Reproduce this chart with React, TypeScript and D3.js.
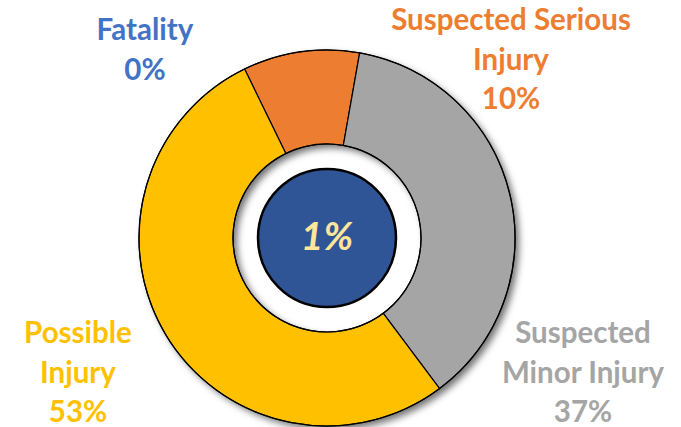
import React from "react";
import * as d3 from "d3";

const categories = ["Fatality", "Suspected Serious Injury", "Suspected Minor Injury", "Possible Injury"];
const values = [0, 10, 37, 53];
const colors = ["#4472C4", "#ED7D31", "#A5A5A5", "#FFC000"];
const labelLines = [["Fatality", "0%"], ["Suspected Serious", "Injury", "10%"], ["Suspected", "Minor Injury", "37%"], ["Possible", "Injury", "53%"]];
const labelPos = [
  { x: 145, y: 40 },
  { x: 511, y: 30 },
  { x: 583, y: 343 },
  { x: 78, y: 343 },
];
const centerLabel = "1%";

const W = 681, H = 427;
const cx = 327, cy = 238;
const outerR = 188, innerR = 94, centerR = 69;
const FONT = "Lato, 'Open Sans', sans-serif";

export default function App() {
  const data = categories.map((c, i) => ({ c, v: values[i], color: colors[i] }));
  const pie = d3.pie<any>().value((d) => d.v).sort(null)
    .startAngle((-26 * Math.PI) / 180)
    .endAngle((-26 * Math.PI) / 180 + 2 * Math.PI);
  const arcs = pie(data);
  const arc = d3.arc<any>().innerRadius(innerR).outerRadius(outerR);
  const ringPath = d3.arc<any>().innerRadius(innerR).outerRadius(outerR).startAngle(0).endAngle(2 * Math.PI)({} as any) as string;
  return (
    <div style={{ position: "absolute", left: 0, top: 0 }}>
      <svg width={W} height={H} style={{ display: "block" }}>
        <defs>
          <filter id="sh" x="-20%" y="-20%" width="140%" height="140%">
            <feDropShadow dx="4" dy="4" stdDeviation="3.5" floodColor="#000" floodOpacity="0.55" />
          </filter>
        </defs>
        <rect width={W} height={H} fill="#fff" />
        <g transform={`translate(${cx},${cy})`}>
          <path d={ringPath} fill="#fff" filter="url(#sh)" />
          {arcs.filter((a) => a.data.v > 0).map((a, i) => (
            <path key={i} d={arc(a) as string} fill={a.data.color} stroke="#000" strokeWidth={1.2} />
          ))}
          <circle r={outerR} fill="none" stroke="#000" strokeWidth={1.2} />
          <circle r={innerR} fill="none" stroke="#000" strokeWidth={1.2} />
          <circle r={centerR} fill="#2F5597" stroke="#000" strokeWidth={2.5} />
          <text y={12} textAnchor="middle" fill="#FFE699" fontFamily={FONT} fontWeight="bold" fontStyle="italic" fontSize={39}>
            {centerLabel}
          </text>
        </g>
        {labelLines.map((lines, i) => (
          <text key={i} textAnchor="middle" fill={colors[i]} fontFamily={FONT} fontWeight="bold" fontSize={29.5}>
            {lines.map((l, j) => (
              <tspan key={j} x={labelPos[i].x} y={labelPos[i].y + j * 39.5}>{l}</tspan>
            ))}
          </text>
        ))}
      </svg>
    </div>
  );
}
